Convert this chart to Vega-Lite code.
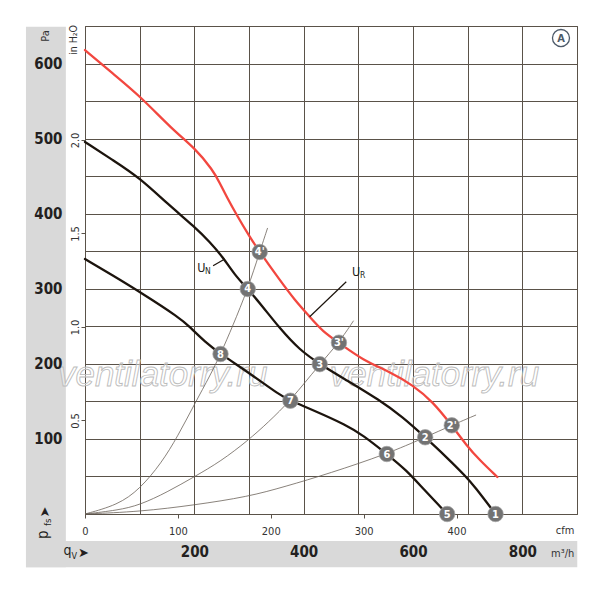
{
"$schema":"https://vega.github.io/schema/vega-lite/v6.json",
"width":492,"height":488,
"autosize":{"type":"none"},
"padding":{"left":85,"top":26,"right":23,"bottom":78},
"background":"white",
"config":{"view":{"stroke":"#5a5249","strokeWidth":1},"font":"Liberation Sans Narrow, DejaVu Sans Condensed, Roboto Condensed, Roboto, sans-serif","axis":{"labelFont":"Liberation Sans Narrow, DejaVu Sans Condensed, Roboto Condensed, Roboto, sans-serif"}},
"datasets":{
"curves":[
{"s":"UR","q":0,"p":618},{"s":"UR","q":51.7,"p":586},{"s":"UR","q":100.5,"p":556.7},{"s":"UR","q":160.7,"p":511.5},{"s":"UR","q":200.9,"p":487.5},{"s":"UR","q":233.8,"p":458.2},{"s":"UR","q":246.6,"p":440.9},{"s":"UR","q":259.4,"p":422.2},{"s":"UR","q":277.6,"p":398.2},{"s":"UR","q":301.4,"p":368.9},{"s":"UR","q":319.6,"p":349},{"s":"UR","q":356.2,"p":311.7},{"s":"UR","q":383.6,"p":285},{"s":"UR","q":411,"p":262.8},{"s":"UR","q":435.3,"p":242.8},{"s":"UR","q":464.5,"p":228.2},{"s":"UR","q":508.3,"p":205},{"s":"UR","q":557.1,"p":189.5},{"s":"UR","q":599.6,"p":171.8},{"s":"UR","q":636.2,"p":149.6},{"s":"UR","q":670.9,"p":118.1},{"s":"UR","q":697.2,"p":92},{"s":"UR","q":721.5,"p":72},{"s":"UR","q":754.3,"p":49.3},
{"s":"UN","q":0,"p":495.5},{"s":"UN","q":51.7,"p":471},{"s":"UN","q":100.5,"p":447.5},{"s":"UN","q":151,"p":413},{"s":"UN","q":200.9,"p":382.3},{"s":"UN","q":228.3,"p":362.3},{"s":"UN","q":252.1,"p":342.3},{"s":"UN","q":274,"p":318.3},{"s":"UN","q":297.7,"p":299.7},{"s":"UN","q":322.7,"p":278.4},{"s":"UN","q":356.2,"p":247.3},{"s":"UN","q":392.7,"p":218.4},{"s":"UN","q":429.4,"p":199.6},{"s":"UN","q":478,"p":178.5},{"s":"UN","q":538.8,"p":151.8},{"s":"UN","q":581.4,"p":129},{"s":"UN","q":622.3,"p":102.2},{"s":"UN","q":660.6,"p":76.3},{"s":"UN","q":697.2,"p":49.7},{"s":"UN","q":712.3,"p":37},{"s":"UN","q":751,"p":0},
{"s":"L","q":0,"p":339.6},{"s":"L","q":50,"p":318},{"s":"L","q":100.5,"p":295.7},{"s":"L","q":173.5,"p":261.1},{"s":"L","q":191.8,"p":249.1},{"s":"L","q":219.2,"p":229.5},{"s":"L","q":247.9,"p":213.1},{"s":"L","q":301.4,"p":187.4},{"s":"L","q":356.2,"p":158.5},{"s":"L","q":375.7,"p":150.9},{"s":"L","q":417,"p":138.5},{"s":"L","q":478,"p":118.5},{"s":"L","q":508.3,"p":105},{"s":"L","q":552.1,"p":79.9},{"s":"L","q":587.6,"p":58.6},{"s":"L","q":617.9,"p":34.2},{"s":"L","q":662.5,"p":0}
],
"sys":[
{"s":"S1","q":0,"p":0},{"s":"S1","q":60,"p":12},{"s":"S1","q":100,"p":33},{"s":"S1","q":140,"p":68},{"s":"S1","q":170,"p":104},{"s":"S1","q":200,"p":146},{"s":"S1","q":230,"p":186},{"s":"S1","q":248,"p":213},{"s":"S1","q":270,"p":250},{"s":"S1","q":297.7,"p":299.7},{"s":"S1","q":319.6,"p":349},{"s":"S1","q":334,"p":381},
{"s":"S2","q":0,"p":0},{"s":"S2","q":60,"p":5},{"s":"S2","q":100.5,"p":12},{"s":"S2","q":150,"p":29},{"s":"S2","q":200.9,"p":50},{"s":"S2","q":248,"p":70},{"s":"S2","q":298.3,"p":98},{"s":"S2","q":335,"p":122},{"s":"S2","q":375.7,"p":150.9},{"s":"S2","q":429.4,"p":199.6},{"s":"S2","q":464.5,"p":228.2},{"s":"S2","q":491.3,"p":257.5},
{"s":"S3","q":0,"p":0},{"s":"S3","q":100.5,"p":3.1},{"s":"S3","q":200.9,"p":12},{"s":"S3","q":298.3,"p":23},{"s":"S3","q":365.3,"p":36.4},{"s":"S3","q":447.5,"p":54.2},{"s":"S3","q":552.1,"p":79.9},{"s":"S3","q":622.3,"p":102.2},{"s":"S3","q":670.9,"p":118.1},{"s":"S3","q":715.4,"p":131.9}
],
"markers":[
{"id":"1","q":751,"p":0},{"id":"2","q":622.3,"p":102.2},{"id":"2'","q":670.9,"p":118.1},{"id":"3","q":429.4,"p":199.6},{"id":"3'","q":464.5,"p":228.2},{"id":"4","q":297.7,"p":299.7},{"id":"4'","q":319.6,"p":349},{"id":"5","q":662.5,"p":0},{"id":"6","q":552.1,"p":79.9},{"id":"7","q":375.7,"p":150.9},{"id":"8","q":247.9,"p":213.1}
],
"leaders":[
{"q1":234.3,"p1":330.7,"q2":255.7,"p2":339.6},{"q1":477.9,"p1":309.4,"q2":411,"p2":262.8}
]
},
"resolve":{"axis":{"x":"independent","y":"independent"}},
"layer":[
{"data":{"values":[{}]},"mark":{"type":"rect","color":"#d9d9d9"},"encoding":{"x":{"datum":-108,"type":"quantitative","scale":{"domain":[0,900],"nice":false,"zero":false},"axis":null},"x2":{"datum":-35},"y":{"datum":649,"type":"quantitative","scale":{"domain":[0,650],"nice":false,"zero":false},"axis":null},"y2":{"datum":-71}}},
{"data":{"values":[{}]},"mark":{"type":"rect","color":"#d9d9d9"},"encoding":{"x":{"datum":-108,"type":"quantitative","scale":{"domain":[0,900],"nice":false,"zero":false},"axis":null},"x2":{"datum":900.5},"y":{"datum":-36,"type":"quantitative","scale":{"domain":[0,650],"nice":false,"zero":false},"axis":null},"y2":{"datum":-71}}},
{"data":{"values":[{}]},"mark":{"type":"text","text":"ventilatorry.ru","font":"Liberation Sans, Arial, sans-serif","fontStyle":"italic","fontSize":35,"fill":"white","fillOpacity":0.4,"stroke":"#bcbcbc","strokeWidth":0.9,"align":"center","baseline":"alphabetic"},"encoding":{"x":{"datum":142,"type":"quantitative","scale":{"domain":[0,900],"nice":false,"zero":false},"axis":null},"y":{"datum":170.5,"type":"quantitative","scale":{"domain":[0,650],"nice":false,"zero":false},"axis":null}}},
{"data":{"values":[{}]},"mark":{"type":"text","text":"ventilatorry.ru","font":"Liberation Sans, Arial, sans-serif","fontStyle":"italic","fontSize":35,"fill":"white","fillOpacity":0.4,"stroke":"#bcbcbc","strokeWidth":0.9,"align":"center","baseline":"alphabetic"},"encoding":{"x":{"datum":639.3,"type":"quantitative","scale":{"domain":[0,900],"nice":false,"zero":false},"axis":null},"y":{"datum":170.5,"type":"quantitative","scale":{"domain":[0,650],"nice":false,"zero":false},"axis":null}}},
{"data":{"name":"sys"},"mark":{"type":"line","interpolate":"basis","color":"#6b6259","strokeWidth":0.8},"encoding":{"x":{"field":"q","type":"quantitative","scale":{"domain":[0,900],"nice":false,"zero":false},"axis":{"values":[0,100,200,300,400,500,600,700,800,900],"grid":true,"gridColor":"#5a5249","gridWidth":1,"gridOpacity":1,"labels":false,"ticks":false,"domain":false,"title":null,"zindex":0}},"y":{"field":"p","type":"quantitative","scale":{"domain":[0,650],"nice":false,"zero":false},"axis":{"values":[0,50,100,150,200,250,300,350,400,450,500,550,600,650],"grid":true,"gridColor":"#5a5249","gridWidth":1,"gridOpacity":1,"labels":false,"ticks":false,"domain":false,"title":null,"zindex":0}},"detail":{"field":"s"}}},
{"data":{"name":"curves"},"mark":{"type":"line","interpolate":"basis","strokeWidth":2.3,"strokeCap":"round"},"encoding":{"x":{"field":"q","type":"quantitative","scale":{"domain":[0,900],"nice":false,"zero":false},"axis":null},"y":{"field":"p","type":"quantitative","scale":{"domain":[0,650],"nice":false,"zero":false},"axis":null},"color":{"field":"s","type":"nominal","scale":{"domain":["UR","UN","L"],"range":["#f2473f","#1c140d","#1c140d"]},"legend":null}}},
{"data":{"name":"leaders"},"mark":{"type":"rule","color":"#1c140d","strokeWidth":1.2},"encoding":{"x":{"field":"q1","type":"quantitative","scale":{"domain":[0,900],"nice":false,"zero":false},"axis":null},"x2":{"field":"q2"},"y":{"field":"p1","type":"quantitative","scale":{"domain":[0,650],"nice":false,"zero":false},"axis":null},"y2":{"field":"p2"}}},
{"data":{"name":"markers"},"mark":{"type":"point","shape":"circle","filled":true,"size":240,"fill":"#737373","stroke":"#a3a3a3","strokeWidth":0.7,"opacity":1},"encoding":{"x":{"field":"q","type":"quantitative","scale":{"domain":[0,900],"nice":false,"zero":false},"axis":{"orient":"bottom","values":[200,400,600,800],"format":"d","labelFontSize":15,"labelFontWeight":"bold","labelColor":"#231f20","ticks":false,"domain":false,"grid":false,"labelPadding":30,"labelFlush":false,"labelOverlap":false,"title":null,"zindex":1}},"y":{"field":"p","type":"quantitative","scale":{"domain":[0,650],"nice":false,"zero":false},"axis":{"orient":"left","values":[100,200,300,400,500,600],"format":"d","labelFontSize":15,"labelFontWeight":"bold","labelColor":"#231f20","ticks":false,"domain":false,"grid":false,"labelPadding":23,"labelOverlap":false,"labelBaseline":"middle","title":null,"zindex":1}}}},
{"data":{"name":"markers"},"mark":{"type":"text","color":"white","fontWeight":"bold","fontSize":11,"align":"center","baseline":"middle","dy":0.5},"encoding":{"text":{"field":"id"},"x":{"field":"q","type":"quantitative","scale":{"domain":[0,900],"nice":false,"zero":false},"axis":{"orient":"bottom","values":[0,169.9,339.8,509.7,679.6],"labelExpr":"format(round(datum.value/1.699),'d')","tickSize":4,"tickColor":"#5a5249","tickWidth":1,"labelFontSize":11,"labelColor":"#333333","labelPadding":7,"domain":false,"grid":false,"labelFlush":false,"labelOverlap":false,"title":null,"zindex":1}},"y":{"field":"p","type":"quantitative","scale":{"domain":[0,650],"nice":false,"zero":false},"axis":{"orient":"left","values":[124.545,249.09,373.635,498.18],"labelExpr":"format(datum.value/249.09,'.1f')","tickSize":4,"tickColor":"#5a5249","labelAngle":270,"labelAlign":"center","labelBaseline":"bottom","labelPadding":1,"labelFontSize":11,"labelColor":"#333333","domain":false,"grid":false,"labelOverlap":false,"title":null,"zindex":1}}}},
{"data":{"values":[{}]},"mark":{"type":"text","text":"Pa","angle":270,"fontSize":11,"color":"#333333","align":"center","baseline":"middle"},"encoding":{"x":{"datum":-71.2,"type":"quantitative","scale":{"domain":[0,900],"nice":false,"zero":false},"axis":null},"y":{"datum":636.7,"type":"quantitative","scale":{"domain":[0,650],"nice":false,"zero":false},"axis":null}}},
{"data":{"values":[{}]},"mark":{"type":"text","text":"in H₂O","angle":270,"fontSize":10.5,"color":"#333333","align":"right","baseline":"middle"},"encoding":{"x":{"datum":-20.1,"type":"quantitative","scale":{"domain":[0,900],"nice":false,"zero":false},"axis":null},"y":{"datum":651.3,"type":"quantitative","scale":{"domain":[0,650],"nice":false,"zero":false},"axis":null}}},
{"data":{"values":[{}]},"mark":{"type":"point","shape":"circle","filled":false,"size":290,"stroke":"#4d5a69","strokeWidth":1.3,"opacity":1},"encoding":{"x":{"datum":870.7,"type":"quantitative","scale":{"domain":[0,900],"nice":false,"zero":false},"axis":null},"y":{"datum":634,"type":"quantitative","scale":{"domain":[0,650],"nice":false,"zero":false},"axis":null}}},
{"data":{"values":[{}]},"mark":{"type":"text","text":"A","fontSize":11,"fontWeight":"bold","color":"#4d5a69","align":"center","baseline":"middle","dy":0.5},"encoding":{"x":{"datum":870.7,"type":"quantitative","scale":{"domain":[0,900],"nice":false,"zero":false},"axis":null},"y":{"datum":634,"type":"quantitative","scale":{"domain":[0,650],"nice":false,"zero":false},"axis":null}}},
{"data":{"values":[{}]},"mark":{"type":"text","text":"U","fontSize":12.5,"color":"#231f20","align":"center","baseline":"middle"},"encoding":{"x":{"datum":212.8,"type":"quantitative","scale":{"domain":[0,900],"nice":false,"zero":false},"axis":null},"y":{"datum":327,"type":"quantitative","scale":{"domain":[0,650],"nice":false,"zero":false},"axis":null}}},
{"data":{"values":[{}]},"mark":{"type":"text","text":"N","fontSize":8.5,"color":"#231f20","align":"center","baseline":"middle"},"encoding":{"x":{"datum":224.7,"type":"quantitative","scale":{"domain":[0,900],"nice":false,"zero":false},"axis":null},"y":{"datum":323.7,"type":"quantitative","scale":{"domain":[0,650],"nice":false,"zero":false},"axis":null}}},
{"data":{"values":[{}]},"mark":{"type":"text","text":"U","fontSize":12.5,"color":"#231f20","align":"center","baseline":"middle"},"encoding":{"x":{"datum":495.9,"type":"quantitative","scale":{"domain":[0,900],"nice":false,"zero":false},"axis":null},"y":{"datum":321.7,"type":"quantitative","scale":{"domain":[0,650],"nice":false,"zero":false},"axis":null}}},
{"data":{"values":[{}]},"mark":{"type":"text","text":"R","fontSize":8.5,"color":"#231f20","align":"center","baseline":"middle"},"encoding":{"x":{"datum":507.8,"type":"quantitative","scale":{"domain":[0,900],"nice":false,"zero":false},"axis":null},"y":{"datum":318.3,"type":"quantitative","scale":{"domain":[0,650],"nice":false,"zero":false},"axis":null}}},
{"data":{"values":[{}]},"mark":{"type":"text","text":"cfm","fontSize":11,"color":"#333333","align":"right","baseline":"middle"},"encoding":{"x":{"datum":895,"type":"quantitative","scale":{"domain":[0,900],"nice":false,"zero":false},"axis":null},"y":{"datum":-22.6,"type":"quantitative","scale":{"domain":[0,650],"nice":false,"zero":false},"axis":null}}},
{"data":{"values":[{}]},"mark":{"type":"text","text":"m³/h","fontSize":11,"color":"#333333","align":"right","baseline":"middle"},"encoding":{"x":{"datum":895,"type":"quantitative","scale":{"domain":[0,900],"nice":false,"zero":false},"axis":null},"y":{"datum":-53.3,"type":"quantitative","scale":{"domain":[0,650],"nice":false,"zero":false},"axis":null}}},
{"data":{"values":[{}]},"mark":{"type":"text","text":"q","fontSize":14,"color":"#231f20","align":"left","baseline":"alphabetic"},"encoding":{"x":{"datum":-39.5,"type":"quantitative","scale":{"domain":[0,900],"nice":false,"zero":false},"axis":null},"y":{"datum":-54.6,"type":"quantitative","scale":{"domain":[0,650],"nice":false,"zero":false},"axis":null}}},
{"data":{"values":[{}]},"mark":{"type":"text","text":"V","fontSize":9,"color":"#231f20","align":"left","baseline":"alphabetic"},"encoding":{"x":{"datum":-24.7,"type":"quantitative","scale":{"domain":[0,900],"nice":false,"zero":false},"axis":null},"y":{"datum":-59.9,"type":"quantitative","scale":{"domain":[0,650],"nice":false,"zero":false},"axis":null}}},
{"data":{"values":[{}]},"mark":{"type":"text","text":"➤","font":"DejaVu Sans","fontSize":13,"color":"#231f20","align":"left","baseline":"middle"},"encoding":{"x":{"datum":-12.8,"type":"quantitative","scale":{"domain":[0,900],"nice":false,"zero":false},"axis":null},"y":{"datum":-51.3,"type":"quantitative","scale":{"domain":[0,650],"nice":false,"zero":false},"axis":null}}},
{"data":{"values":[{}]},"mark":{"type":"text","text":"p","angle":270,"fontSize":15,"color":"#231f20","align":"left","baseline":"alphabetic"},"encoding":{"x":{"datum":-68.5,"type":"quantitative","scale":{"domain":[0,900],"nice":false,"zero":false},"axis":null},"y":{"datum":-33.3,"type":"quantitative","scale":{"domain":[0,650],"nice":false,"zero":false},"axis":null}}},
{"data":{"values":[{}]},"mark":{"type":"text","text":"fs","angle":270,"fontSize":9.5,"color":"#231f20","align":"left","baseline":"alphabetic"},"encoding":{"x":{"datum":-63,"type":"quantitative","scale":{"domain":[0,900],"nice":false,"zero":false},"axis":null},"y":{"datum":-16,"type":"quantitative","scale":{"domain":[0,650],"nice":false,"zero":false},"axis":null}}},
{"data":{"values":[{}]},"mark":{"type":"text","text":"➤","font":"DejaVu Sans","angle":270,"fontSize":13,"color":"#231f20","align":"center","baseline":"middle"},"encoding":{"x":{"datum":-73,"type":"quantitative","scale":{"domain":[0,900],"nice":false,"zero":false},"axis":null},"y":{"datum":2.7,"type":"quantitative","scale":{"domain":[0,650],"nice":false,"zero":false},"axis":null}}}
]
}
